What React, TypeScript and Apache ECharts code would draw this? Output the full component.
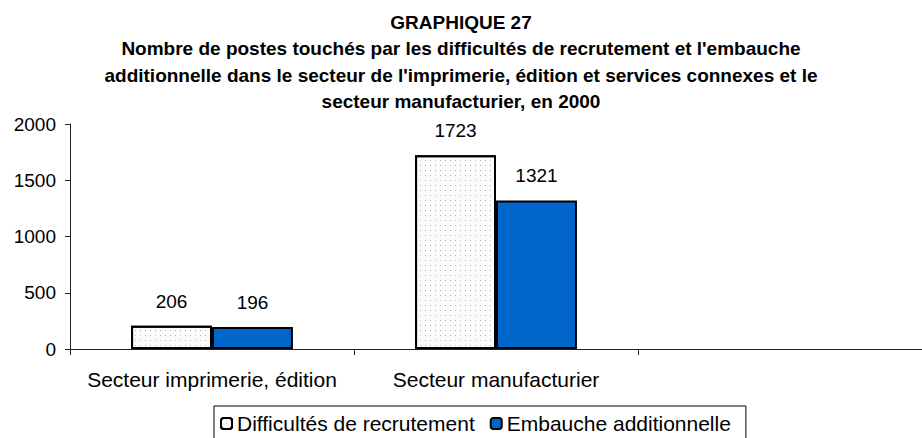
import React, { useEffect, useRef } from "react";
import * as echarts from "echarts";

const titleLines = [
  "GRAPHIQUE 27",
  "Nombre de postes touchés par les difficultés de recrutement et l'embauche",
  "additionnelle dans le secteur de l'imprimerie, édition et services connexes et le",
  "secteur manufacturier, en 2000",
];
const categories = ["Secteur imprimerie, édition", "Secteur manufacturier", ""];
const seriesNames = ["Difficultés de recrutement", "Embauche additionnelle"];
const difficultes: (number | string)[] = [206, 1723, "-"];
const embauche: (number | string)[] = [196, 1321, "-"];
const yTicks = { min: 0, max: 2000, interval: 500 };

export default function App() {
  const ref = useRef<HTMLDivElement>(null);
  useEffect(() => {
    if (!ref.current) return;
    const chart = echarts.init(ref.current, undefined, { renderer: "svg" });
    const font = "'Liberation Sans', Arial, sans-serif";
    const lineH = 26.5;
    chart.setOption({
      animation: false,
      textStyle: { fontFamily: font },
      title: titleLines.map((t, i) => ({
        text: t,
        left: "center",
        top: 9 + i * lineH,
        padding: 0,
        textStyle: {
          fontFamily: font,
          fontWeight: "bold",
          fontSize: 19,
          lineHeight: lineH,
          color: "#000",
        },
      })),
      grid: { left: 70, right: -6, top: 124, bottom: 89, containLabel: false },
      legend: {
        data: seriesNames,
        left: 214,
        top: 406,
        orient: "horizontal",
        borderColor: "#000",
        borderWidth: 1,
        padding: [7, 15, 8, 6],
        itemWidth: 11,
        itemHeight: 11,
        itemGap: 15,
        textStyle: { fontFamily: font, fontSize: 21, color: "#000" },
      },
      xAxis: {
        type: "category",
        data: categories,
        axisLine: { lineStyle: { color: "#222", width: 1 } },
        axisTick: { show: true, length: 6, lineStyle: { color: "#222" } },
        axisLabel: { fontFamily: font, fontSize: 21, color: "#000", margin: 20, interval: 0 },
      },
      yAxis: {
        type: "value",
        min: yTicks.min,
        max: yTicks.max,
        interval: yTicks.interval,
        splitLine: { show: false },
        axisLine: { show: true, lineStyle: { color: "#222", width: 1 } },
        axisTick: { show: true, length: 5, lineStyle: { color: "#222" } },
        axisLabel: {
          fontFamily: font,
          fontSize: 19,
          color: "#000",
          margin: 14,
          formatter: (v: number) => String(v),
        },
      },
      series: [
        {
          name: seriesNames[0],
          type: "bar",
          data: difficultes,
          barGap: "0%",
          barCategoryGap: "43%",
          itemStyle: {
            color: "#fbfbfb",
            borderColor: "#000",
            borderWidth: 2,
            decal: {
              symbol: "rect",
              symbolSize: 1,
              color: "#b8b8b8",
              dashArrayX: [1, 4],
              dashArrayY: [1, 4],
            },
          },
          label: {
            show: true,
            position: "top",
            distance: 15,
            fontFamily: font,
            fontSize: 19,
            color: "#000",
          },
        },
        {
          name: seriesNames[1],
          type: "bar",
          data: embauche,
          itemStyle: { color: "#0066cc", borderColor: "#000", borderWidth: 2 },
          label: {
            show: true,
            position: "top",
            distance: 15,
            fontFamily: font,
            fontSize: 19,
            color: "#000",
          },
        },
      ],
    });
    return () => chart.dispose();
  }, []);
  return <div ref={ref} style={{ width: 922, height: 438, position: "absolute", left: 0, top: 0 }} />;
}
